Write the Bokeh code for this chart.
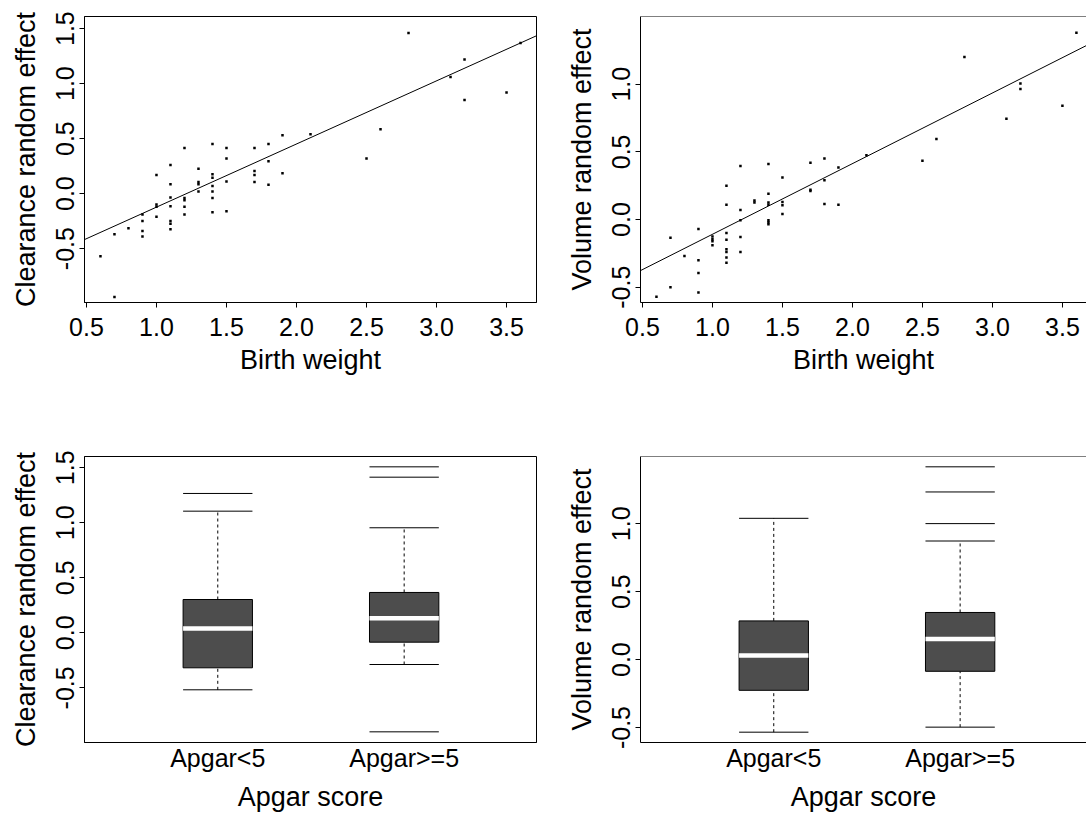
from bokeh.plotting import figure
from bokeh.layouts import column, row
from bokeh.models import FixedTicker, PrintfTickFormatter, Slope, Span, Range1d
from bokeh.embed import file_html
from bokeh.resources import INLINE

# ---------------- data ----------------
bw_clearance = [0.6, 0.7, 0.7, 0.8,
                0.9, 0.9, 0.9, 0.9,
                1.0, 1.0, 1.0, 1.0,
                1.1, 1.1, 1.1, 1.1, 1.1, 1.1, 1.1,
                1.2, 1.2, 1.2, 1.2, 1.2,
                1.3, 1.3, 1.3, 1.3,
                1.4, 1.4, 1.4, 1.4, 1.4, 1.4, 1.4,
                1.5, 1.5, 1.5, 1.5,
                1.7, 1.7, 1.7, 1.7,
                1.8, 1.8, 1.8,
                1.9, 1.9,
                2.1, 2.5, 2.6, 2.8, 3.1, 3.2, 3.2, 3.5, 3.6]
clearance_re = [-0.57, -0.94, -0.37, -0.315,
                -0.19, -0.25, -0.34, -0.39,
                0.17, -0.10, -0.12, -0.21,
                0.26, 0.085, -0.035, -0.115, -0.25, -0.275, -0.325,
                0.415, -0.04, -0.06, -0.12, -0.19,
                0.225, 0.105, 0.085, 0.02,
                0.45, 0.175, 0.145, 0.07, 0.02, -0.04, -0.17,
                0.415, 0.32, 0.11, -0.16,
                0.415, 0.205, 0.17, 0.105,
                0.45, 0.295, 0.08,
                0.53, 0.185,
                0.54, 0.32, 0.585, 1.46, 1.06, 1.22, 0.85, 0.92, 1.37]

bw_volume = [0.6, 0.7, 0.7, 0.8,
             0.9, 0.9, 0.9, 0.9,
             1.0, 1.0, 1.0, 1.0,
             1.1, 1.1, 1.1, 1.1, 1.1, 1.1, 1.1, 1.1,
             1.2, 1.2, 1.2, 1.2, 1.2,
             1.3, 1.3,
             1.4, 1.4, 1.4, 1.4, 1.4, 1.4, 1.4,
             1.5, 1.5, 1.5, 1.5,
             1.7, 1.7, 1.7,
             1.8, 1.8, 1.8,
             1.9, 1.9,
             2.1, 2.5, 2.6, 2.8, 3.1, 3.2, 3.2, 3.5, 3.6]
volume_re = [-0.57, -0.135, -0.50, -0.27,
             -0.07, -0.30, -0.395, -0.54,
             -0.125, -0.145, -0.16, -0.19,
             0.25, 0.11, -0.10, -0.15, -0.22, -0.24, -0.28, -0.32,
             0.395, 0.07, -0.005, -0.13, -0.24,
             0.14, 0.125,
             0.41, 0.19, 0.125, 0.11, -0.005, -0.02, -0.035,
             0.31, 0.13, 0.105, 0.04,
             0.42, 0.22, 0.21,
             0.45, 0.29, 0.115,
             0.385, 0.11,
             0.475, 0.435, 0.595, 1.20, 0.745, 1.005, 0.965, 0.84, 1.38]

clearance_fit_intercept = -0.697
clearance_fit_slope = 0.574
volume_fit_intercept = -0.631
volume_fit_slope = 0.522

apgar_groups = ["Apgar<5", "Apgar>=5"]
apgar_pos = [1, 2]

clear_lower = [-0.518, -0.288]
clear_q1 = [-0.318, -0.085]
clear_median = [0.039, 0.133]
clear_q3 = [0.303, 0.367]
clear_upper = [1.106, 0.955]
clear_outliers = [[1.267], [1.509, 1.415, -0.90]]

vol_lower = [-0.534, -0.497]
vol_q1 = [-0.226, -0.086]
vol_median = [0.030, 0.152]
vol_q3 = [0.285, 0.347]
vol_upper = [1.040, 0.873]
vol_outliers = [[], [1.419, 1.234, 1.001]]

weight_ticks = [0.5, 1.0, 1.5, 2.0, 2.5, 3.0, 3.5]
clear_ticks = [-0.5, 0.0, 0.5, 1.0, 1.5]
vol_ticks = [-0.5, 0.0, 0.5, 1.0]

FONT = "Liberation Sans"
TICK_FS = "25px"
LAB_FS = "27px"
BOX_W = 0.372


def make_fig(width, height, xr, yr, left, right, top, bottom, outline=True):
    p = figure(width=width, height=height, x_range=Range1d(*xr), y_range=Range1d(*yr),
               output_backend="svg", toolbar_location=None,
               min_border_left=left, min_border_right=right,
               min_border_top=top, min_border_bottom=bottom)
    p.grid.visible = False
    p.background_fill_color = "white"
    p.border_fill_color = "white"
    if outline:
        p.outline_line_color = "black"
        p.outline_line_alpha = 1.0
    else:
        p.outline_line_color = None
        p.add_layout(Span(location=yr[1], dimension="width", line_color="black", line_width=1))
    for ax in (p.xaxis[0], p.yaxis[0]):
        ax.axis_line_color = "black"
        ax.major_tick_line_color = "black"
        ax.minor_tick_line_color = None
        ax.major_tick_in = 0
        ax.major_tick_out = 5
        ax.major_label_text_font = FONT
        ax.major_label_text_font_size = TICK_FS
        ax.major_label_text_color = "black"
        ax.axis_label_text_font = FONT
        ax.axis_label_text_font_size = LAB_FS
        ax.axis_label_text_font_style = "normal"
        ax.axis_label_text_color = "black"
    p.yaxis[0].major_label_orientation = "parallel"
    p.yaxis[0].major_label_standoff = 5
    p.yaxis[0].axis_label_standoff = 13
    return p


def scatter_panel(xs, ys, a, b, ylabel, yr, yticks, right_side):
    if right_side:
        p = make_fig(543, 440, (0.486, 3.672), yr, 97, 0, 16, 138, outline=False)
    else:
        p = make_fig(543, 440, (0.486, 3.714), yr, 84, 7, 16, 138)
    p.square(xs, ys, size=2.5, fill_color="black", line_color=None)
    p.add_layout(Slope(gradient=b, y_intercept=a, line_color="black", line_width=1))
    p.xaxis.ticker = FixedTicker(ticks=weight_ticks)
    p.xaxis.formatter = PrintfTickFormatter(format="%.1f")
    p.yaxis.ticker = FixedTicker(ticks=yticks)
    p.yaxis.formatter = PrintfTickFormatter(format="%.1f")
    p.xaxis.axis_label = "Birth weight"
    p.yaxis.axis_label = ylabel
    p.xaxis.major_label_standoff = 10
    p.xaxis.axis_label_standoff = 6
    return p


def box_panel(lower, q1, med, q3, upper, outliers, ylabel, yr, yticks, right_side):
    if right_side:
        p = make_fig(543, 377, (0.285, 2.678), yr, 97, 0, 16, 75, outline=False)
    else:
        p = make_fig(543, 377, (0.285, 2.710), yr, 84, 7, 16, 75)
    x0 = [x - BOX_W / 2 for x in apgar_pos]
    x1 = [x + BOX_W / 2 for x in apgar_pos]
    # whiskers
    p.segment(apgar_pos, q3, apgar_pos, upper, line_color="black", line_width=1, line_dash="3 3")
    p.segment(apgar_pos, lower, apgar_pos, q1, line_color="black", line_width=1, line_dash="3 3")
    # caps
    p.segment(x0, upper, x1, upper, line_color="black", line_width=1)
    p.segment(x0, lower, x1, lower, line_color="black", line_width=1)
    # boxes
    p.vbar(x=apgar_pos, width=BOX_W, top=q3, bottom=q1, fill_color="#4d4d4d",
           line_color="black", line_width=1)
    p.segment(x0, med, x1, med, line_color="white", line_width=4.5)
    # outliers drawn as lines
    ox0, ox1, oy = [], [], []
    for i, outs in enumerate(outliers):
        for v in outs:
            ox0.append(x0[i])
            ox1.append(x1[i])
            oy.append(v)
    p.segment(ox0, oy, ox1, oy, line_color="black", line_width=1)
    p.xaxis.ticker = FixedTicker(ticks=apgar_pos)
    p.xaxis.major_label_overrides = {1: apgar_groups[0], 2: apgar_groups[1]}
    p.xaxis.major_tick_out = 0
    p.xaxis.major_label_standoff = 1
    p.xaxis.axis_label_standoff = 7
    p.xaxis.axis_label = "Apgar score"
    p.yaxis.ticker = FixedTicker(ticks=yticks)
    p.yaxis.formatter = PrintfTickFormatter(format="%.1f")
    p.yaxis.axis_label = ylabel
    return p


p1 = scatter_panel(bw_clearance, clearance_re, clearance_fit_intercept, clearance_fit_slope,
                   "Clearance random effect", (-0.99, 1.61), clear_ticks, False)
p2 = scatter_panel(bw_volume, volume_re, volume_fit_intercept, volume_fit_slope,
                   "Volume random effect", (-0.613, 1.5), vol_ticks, True)
p3 = box_panel(clear_lower, clear_q1, clear_median, clear_q3, clear_upper, clear_outliers,
               "Clearance random effect", (-0.997, 1.603), clear_ticks, False)
p4 = box_panel(vol_lower, vol_q1, vol_median, vol_q3, vol_upper, vol_outliers,
               "Volume random effect", (-0.61, 1.495), vol_ticks, True)

layout = column(row(p1, p2, spacing=0), row(p3, p4, spacing=0), spacing=0)

with open("out.html", "w") as f:
    f.write(file_html(layout, INLINE))
